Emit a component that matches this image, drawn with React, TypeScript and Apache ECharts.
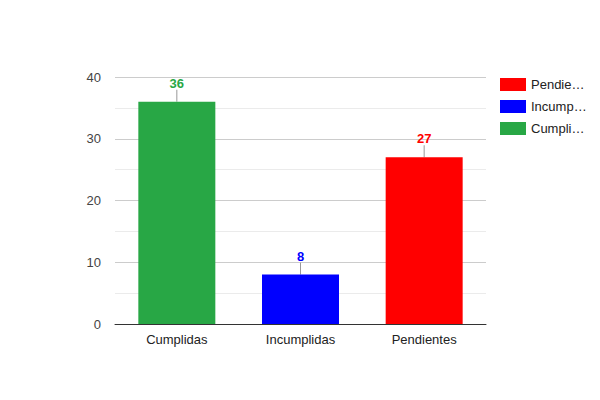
import React, { useEffect, useRef } from "react";
import * as echarts from "echarts";

const categories = ["Cumplidas", "Incumplidas", "Pendientes"];
const values = [36, 8, 27];
const colors = ["#28a745", "#0000ff", "#ff0000"];
const legendOrder = ["Pendientes", "Incumplidas", "Cumplidas"];
const yTicks = [0, 10, 20, 30, 40];

export default function App() {
  const ref = useRef<HTMLDivElement>(null);
  useEffect(() => {
    document.body.style.margin = "0";
    if (!ref.current) return;
    const chart = echarts.init(ref.current, undefined, { renderer: "svg" });
    const font = "Arial, 'Liberation Sans', sans-serif";
    const barSeries = categories.map((name, i) => ({
      type: "bar",
      name,
      data: categories.map((_, j) => (j === i ? values[i] : "-")),
      barWidth: 77,
      barGap: "-100%",
      itemStyle: { color: colors[i] },
      emphasis: { disabled: true },
    }));
    chart.setOption({
      animation: false,
      textStyle: { fontFamily: font },
      grid: { left: 115, right: 114, top: 77, bottom: 76 },
      legend: {
        orient: "vertical",
        left: 500,
        top: 78,
        padding: 0,
        itemWidth: 26,
        itemHeight: 13,
        itemGap: 9,
        icon: "rect",
        data: legendOrder,
        textStyle: {
          fontSize: 13,
          color: "#222",
          width: 58,
          overflow: "truncate",
          ellipsis: "…",
          fontFamily: font,
        },
        selectedMode: false,
      },
      xAxis: {
        type: "category",
        data: categories,
        axisTick: { show: false },
        axisLine: { lineStyle: { color: "#333", width: 1 } },
        axisLabel: { color: "#222", fontSize: 13, margin: 9, fontFamily: font },
      },
      yAxis: {
        type: "value",
        min: yTicks[0],
        max: yTicks[yTicks.length - 1],
        interval: 10,
        axisLine: { show: false },
        axisTick: { show: false },
        axisLabel: { color: "#444", fontSize: 13, margin: 14, fontFamily: font },
        splitLine: { lineStyle: { color: "#cccccc" } },
        minorTick: { show: false, splitNumber: 2 },
        minorSplitLine: { show: true, lineStyle: { color: "#ebebeb" } },
      },
      series: [
        ...barSeries,
        {
          type: "custom",
          silent: true,
          data: values.map((v, i) => [i, v]),
          renderItem: (params: any, api: any) => {
            const idx = params.dataIndex;
            const p = api.coord([api.value(0), api.value(1)]);
            return {
              type: "group",
              children: [
                {
                  type: "line",
                  shape: { x1: p[0], y1: p[1], x2: p[0], y2: p[1] - 12 },
                  style: { stroke: "#999999", lineWidth: 1 },
                },
                {
                  type: "text",
                  x: p[0],
                  y: p[1] - 12,
                  style: {
                    text: String(values[idx]),
                    fill: colors[idx],
                    font: `bold 13px ${font}`,
                    align: "center",
                    verticalAlign: "bottom",
                  },
                },
              ],
            };
          },
        },
      ],
    });
    return () => chart.dispose();
  }, []);
  return <div ref={ref} style={{ width: 600, height: 400 }} />;
}
